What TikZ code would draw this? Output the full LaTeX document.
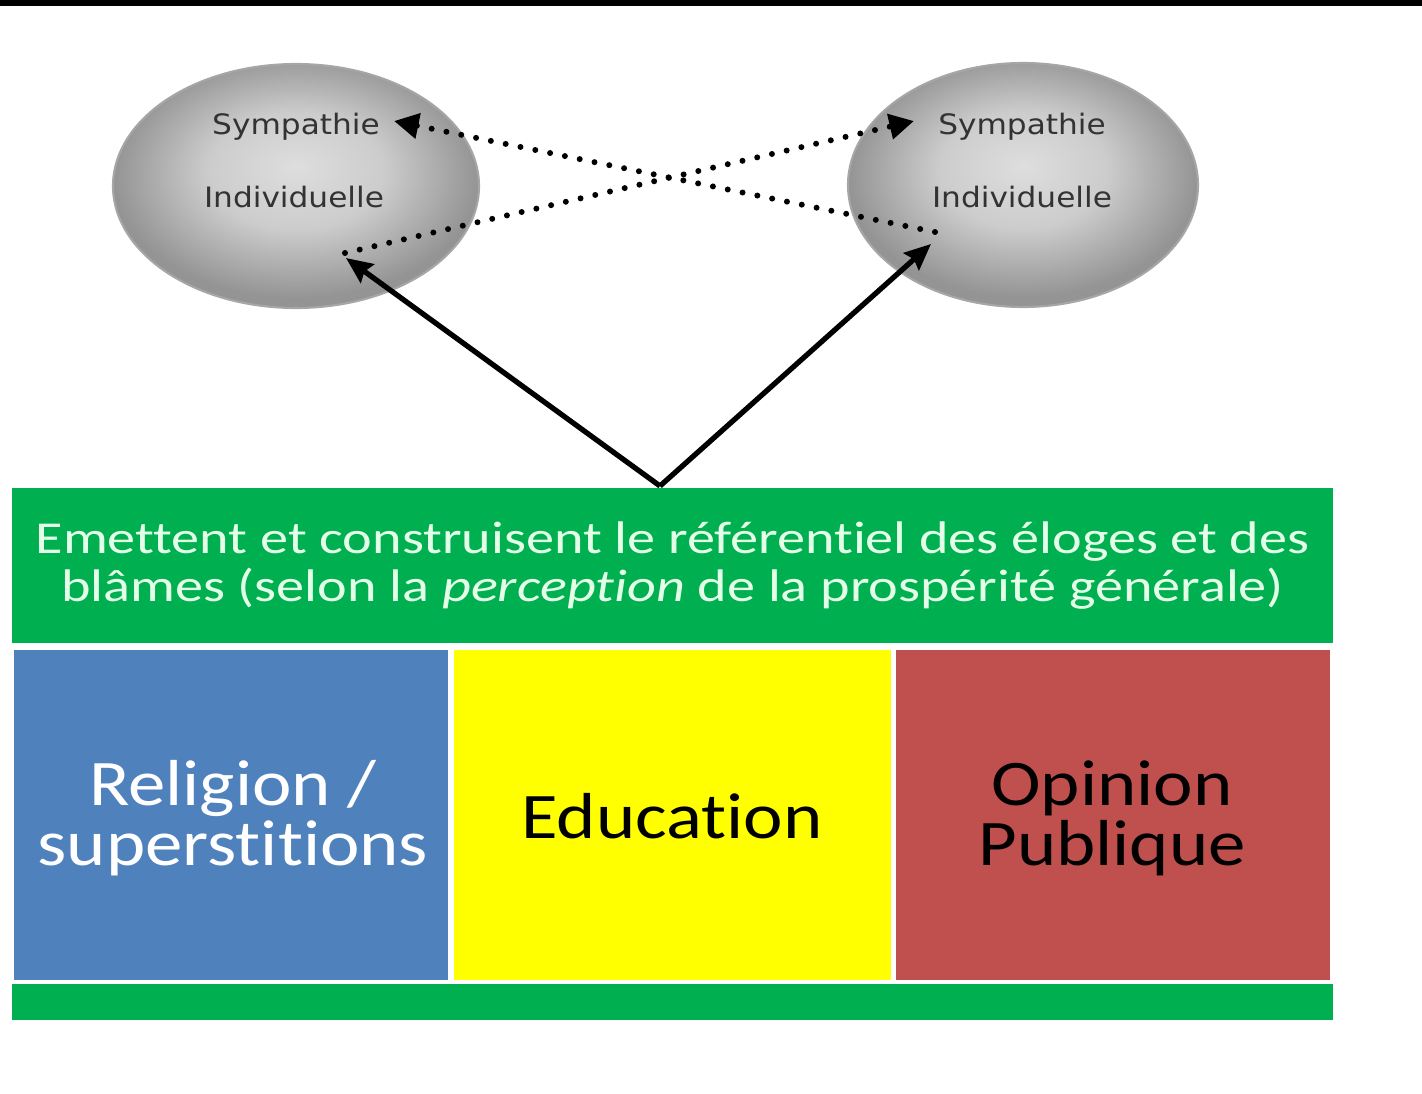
\documentclass[tikz,border=0pt]{standalone}
\usepackage{fontspec}
\setmainfont{Carlito}[FakeStretch=1.23, Ligatures=NoCommon]
\newfontfamily\bigsans{Carlito}[FakeStretch=1.15, Ligatures=NoCommon]
\newfontfamily\smallsans{DejaVu Sans}[FakeStretch=1.11]
\usetikzlibrary{arrows.meta,shapes.geometric}
\definecolor{vert}{RGB}{0,176,80}
\definecolor{bleu}{RGB}{79,129,189}
\definecolor{jaune}{RGB}{255,255,0}
\definecolor{rouge}{RGB}{192,80,77}
\definecolor{pale}{RGB}{228,255,232}
\pgfdeclareradialshading{bulleshade}{\pgfpoint{0bp}{4bp}}{color(0bp)=(black!13); color(12bp)=(black!20); color(25bp)=(black!42); color(50bp)=(black!42)}
\tikzset{
  bulle/.style={ellipse, draw=black!35, line width=0.6pt, shading=bulleshade, minimum height=2.44cm, inner sep=0pt},
  bulletxt/.style={font=\smallsans\fontsize{8}{9}\selectfont, text=black!80, inner sep=0pt},
  pave/.style={inner sep=0pt, minimum height=3.30cm},
  pavetxt/.style={font=\bigsans\fontsize{18.5}{17}\selectfont, align=center},
  pointille/.style={line width=1.7pt, dash pattern=on 0pt off 4.3pt, line cap=round, -{Triangle[length=7pt, width=7pt]}},
  fleche/.style={line width=1.5pt, -{Stealth[length=7.5pt, width=6.5pt, inset=1pt]}}
}
\begin{document}
\begin{tikzpicture}
	\useasboundingbox (0,0) rectangle (14.22,-10.94);
	\fill[black] (0,0) rectangle (14.22,-0.06);
	
	\node[bulle, minimum width=3.66cm] (gauche) at (2.96,-1.86) {};
	\node[bulle, minimum width=3.50cm] (droite) at (10.23,-1.85) {};
	\node[bulletxt] (gsym) at (2.96,-1.27) {Sympathie};
	\node[bulletxt] (gind) at (2.94,-1.97) {Individuelle};
	\node[bulletxt] (dsym) at (10.22,-1.27) {Sympathie};
	\node[bulletxt] (dind) at (10.22,-1.97) {Individuelle};
	
	\node[fill=vert, minimum width=13.21cm, minimum height=1.55cm, inner sep=0pt, text=pale, align=center,
	      font=\fontsize{13}{13.8}\selectfont] (referentiel) at (6.725,-5.655)
	      {Emettent et construisent le référentiel des éloges et des\\blâmes (selon la \textit{perception} de la prospérité générale)};
	\node[pave, fill=bleu, minimum width=4.34cm] (religion) at (2.31,-8.15) {};
	\node[pave, fill=jaune, minimum width=4.37cm] (education) at (6.725,-8.15) {};
	\node[pave, fill=rouge, minimum width=4.34cm] (opinion) at (11.13,-8.15) {};
	\node[pavetxt, text=white] at (2.33,-8.18) {Religion /\\superstitions};
	\node[pavetxt, text=black] at (6.72,-8.16) {Education};
	\node[pavetxt, text=black] at (11.12,-8.18) {Opinion\\Publique};
	\node[fill=vert, minimum width=13.21cm, minimum height=0.36cm, inner sep=0pt] (socle) at (6.725,-10.02) {};
	
	\coordinate (pointe) at (6.60,-4.86);
	\coordinate (gbas) at (3.45,-2.53);
	\coordinate (dbas) at (9.35,-2.32);
	\coordinate (gcible) at (3.46,-2.58);
	\coordinate (dcible) at (9.31,-2.44);
	\coordinate (ghaut) at (3.94,-1.21);
	\coordinate (dhaut) at (9.14,-1.21);
	
	\draw[pointille] (gbas) -- (dhaut);
	\draw[pointille] (dbas) -- (ghaut);
	\draw[fleche] (pointe) -- (gcible);
	\draw[fleche] (pointe) -- (dcible);
	
\end{tikzpicture}
\end{document}
